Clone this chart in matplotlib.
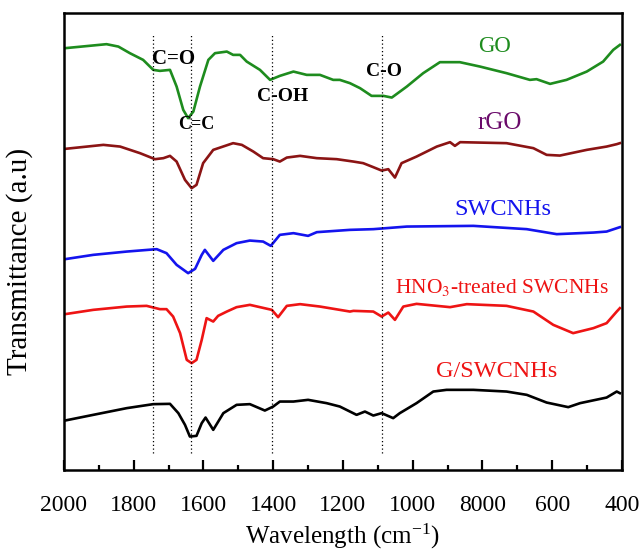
import numpy as np
import matplotlib
matplotlib.use("Agg")
import matplotlib.pyplot as plt

plt.rcParams['font.family'] = ['Liberation Serif', 'DejaVu Serif']
plt.rcParams['mathtext.fontset'] = 'stix'

# traced spectra (wavenumber, transmittance in arbitrary units)
go_x = [1997, 1878, 1844, 1811, 1773, 1744, 1725, 1696, 1677, 1658, 1644, 1629, 1610, 1586,
        1567, 1533, 1515, 1495, 1476, 1438, 1409, 1381, 1342, 1304, 1266, 1228, 1209, 1180,
        1151, 1118, 1084, 1060, 1017, 970, 922, 865, 807, 731, 664, 645, 606, 559, 501, 454, 425, 406]
go_y = [421.7, 425.7, 423.3, 416.7, 410, 400, 399, 400, 383.3, 360, 351.7, 358.3, 383.3, 410,
        416.7, 418.3, 415, 415, 408.3, 400, 390, 394, 398.3, 395, 395, 390, 390, 386.7,
        381.7, 374, 374, 372.3, 383.3, 396.7, 407.7, 407.7, 403.3, 396.7, 390, 390.7, 386, 390, 398.3, 408.3, 420, 425]

rgo_x = [1997, 1887, 1839, 1782, 1739, 1715, 1696, 1677, 1653, 1634, 1620, 1601, 1572, 1515,
         1490, 1457, 1429, 1400, 1381, 1361, 1323, 1275, 1218, 1170, 1142, 1113, 1089, 1070,
         1051, 1032, 989, 931, 893, 879, 864, 731, 654, 616, 578, 501, 444, 415, 406]
rgo_y = [321, 325, 323.3, 316.7, 310.7, 311.7, 314, 308.3, 290, 281.7, 285, 306.7, 320, 326.7,
         325, 318.3, 311.7, 310.7, 308.3, 312.3, 314, 311.7, 310.7, 308.3, 306.7, 302.7, 299.3, 300.7,
         292.3, 306.7, 313.3, 323.3, 327.7, 324, 327.7, 326.7, 321.7, 315, 314.3, 320, 323.3, 325.7, 326.7]

sw_x = [1997, 1916, 1820, 1734, 1706, 1677, 1644, 1624, 1605, 1596, 1572, 1543, 1505, 1467,
        1429, 1407, 1381, 1342, 1300, 1275, 1180, 1113, 1017, 826, 673, 587, 482, 444, 406]
sw_y = [210.7, 215, 218.3, 220.7, 216.7, 205, 196.7, 201, 215, 220, 209, 220, 226.7, 229.3,
        228.3, 224, 235, 236.7, 234, 237.7, 240, 240.7, 243.3, 244, 240.7, 235.7, 237.3, 238.3, 242.7]

hno_x = [1997, 1916, 1820, 1763, 1725, 1706, 1687, 1667, 1648, 1634, 1620, 1605, 1591, 1572,
         1558, 1533, 1505, 1467, 1438, 1404, 1386, 1361, 1323, 1266, 1180, 1170, 1113, 1089,
         1070, 1051, 1027, 989, 893, 845, 731, 654, 597, 540, 482, 444, 415, 406]
hno_y = [155.7, 160, 163.3, 164, 160.7, 160.7, 153.3, 136.7, 110, 106.7, 110, 130, 151.7, 148.3,
         154, 158.3, 162.7, 165, 162.7, 160, 152.7, 164, 165.7, 163.3, 158.3, 159, 158.3, 153.3,
         157.3, 150, 163.3, 166, 162.7, 165.7, 164, 158.3, 145, 136.7, 141.7, 146.7, 158.3, 161.7]

gsw_x = [1997, 1916, 1820, 1744, 1696, 1672, 1653, 1639, 1620, 1605, 1594, 1572, 1543, 1505,
         1467, 1424, 1400, 1381, 1342, 1300, 1247, 1209, 1161, 1137, 1113, 1089, 1056, 1037,
         989, 941, 903, 826, 731, 673, 616, 554, 520, 444, 415, 406]
gsw_y = [49.3, 55, 61.7, 65.7, 66, 56.7, 45, 33.3, 34, 46.7, 52.3, 40, 56.7, 65,
         65.7, 59.3, 63.3, 68.3, 68.3, 70, 66.7, 63.3, 55, 58.3, 54.3, 56.7, 51.7, 56.7,
         66.7, 78.3, 80, 80, 78.3, 75, 67.3, 62.7, 66.7, 72.3, 78.3, 76.7]

peak_pos = [1744, 1636, 1404, 1089]
tick_pos = [2000, 1800, 1600, 1400, 1200, 1000, 800, 600, 400]
tick_lbl = ['2000', '1800', '1600', '1400', '1200', '1000', '8000', '600', '400']

fig = plt.figure(figsize=(6.41, 5.6), dpi=100)
ax = fig.add_axes([0.0998, 0.161, 0.8705, 0.816])

lw = 1.9
ax.plot(go_x, go_y, color='#1e8c1e', lw=lw)
ax.plot(rgo_x, rgo_y, color='#8b1414', lw=lw)
ax.plot(sw_x, sw_y, color='#1414ee', lw=lw)
ax.plot(hno_x, hno_y, color='#ee1414', lw=lw)
ax.plot(gsw_x, gsw_y, color='black', lw=lw)

ax.vlines(peak_pos, 17, 437, colors='black', linestyles=(0, (1, 2)), lw=0.9)

ax.text(764, 423, 'GO', color='#1e8c1e', fontsize=16.5, ha='center', va='center')
ax.text(752, 346.7, 'rGO', color='#6a0a6a', fontsize=18, ha='center', va='center')
ax.text(742, 260, 'SWCNHs', color='#1414ee', fontsize=17.5, ha='center', va='center')
ax.text(745, 182.7, r'HNO$_3$-treated SWCNHs', color='#ee1414', fontsize=15.5,
        ha='center', va='center')
ax.text(759, 98.3, 'G/SWCNHs', color='#ee1414', fontsize=17.5, ha='center', va='center')

ax.text(1685, 410.7, 'C=O', fontsize=15, fontweight='bold', ha='center', va='center')
ax.text(1622, 345.7, 'C=C', fontsize=13, fontweight='bold', ha='center', va='center')
ax.text(1373, 373.3, 'C-OH', fontsize=14, fontweight='bold', ha='center', va='center')
ax.text(1082, 398.3, 'C-O', fontsize=14, fontweight='bold', ha='center', va='center')

ax.set_xlim(2000, 400)
ax.set_ylim(0, 457)
ax.set_xticks(tick_pos)
ax.set_xticklabels(tick_lbl, fontsize=17, fontfamily='Liberation Serif')
ax.set_xticks(np.arange(1900, 400, -200), minor=True)
ax.set_yticks([])
ax.tick_params(axis='x', which='major', direction='in', length=7, width=1.6, pad=18)
ax.tick_params(axis='x', which='minor', direction='in', length=3.5, width=1.6)
for s in ax.spines.values():
    s.set_linewidth(1.8)

ax.set_xlabel('Wavelength (cm$^{\\mathregular{-1}}$)', fontsize=18)
ax.xaxis.set_label_coords(0.5, -0.112)
ax.set_ylabel('Transmittance (a.u)', fontsize=21)
ax.yaxis.set_label_coords(-0.055, 0.457)

fig.savefig('out.png', dpi=100)
